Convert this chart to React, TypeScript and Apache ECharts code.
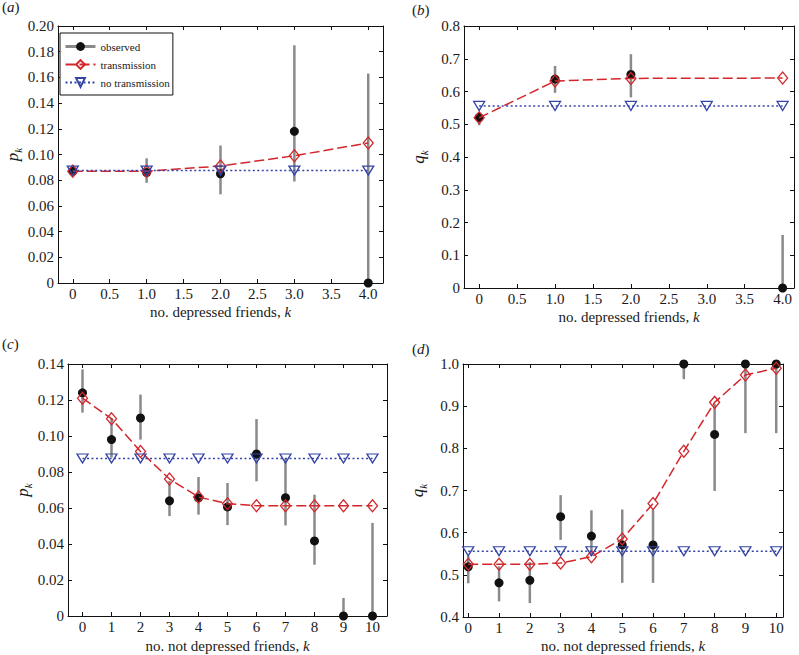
import React, { useEffect, useRef } from 'react';
import * as echarts from 'echarts';

// ---------- data ----------
// (a) p_k vs no. depressed friends
const kA = [0, 1, 2, 3, 4];
const obsA = [0.087, 0.086, 0.085, 0.118, 0];
const obsLoA = [0.084, 0.078, 0.069, 0.079, 0];
const obsHiA = [0.092, 0.097, 0.107, 0.185, 0.163];
const transA = [0.087, 0.087, 0.091, 0.099, 0.109];
const noTransA = [0.0875, 0.0875, 0.0875, 0.0875, 0.0875];

// (b) q_k vs no. depressed friends
const kBObs = [0, 1, 2, 4];
const obsB = [0.521, 0.638, 0.652, 0];
const obsLoB = [0.497, 0.596, 0.582, 0];
const obsHiB = [0.537, 0.678, 0.714, 0.162];
const kBTrans = [0, 1, 2, 4];
const transB = [0.52, 0.632, 0.64, 0.641];
const kBNo = [0, 1, 2, 3, 4];
const noTransB = [0.556, 0.556, 0.556, 0.556, 0.556];

// (c) p_k vs no. not depressed friends
const kC = [0, 1, 2, 3, 4, 5, 6, 7, 8, 9, 10];
const obsC = [0.124, 0.098, 0.11, 0.064, 0.0656, 0.0606, 0.09, 0.0657, 0.0417, 0, 0];
const obsLoC = [0.113, 0.088, 0.098, 0.0555, 0.0563, 0.0505, 0.0748, 0.0503, 0.0285, 0, 0];
const obsHiC = [0.137, 0.11, 0.123, 0.075, 0.0772, 0.0739, 0.1094, 0.0875, 0.0674, 0.01, 0.0517];
const transC = [0.121, 0.1096, 0.0914, 0.0761, 0.0661, 0.0624, 0.0613, 0.0612, 0.0612, 0.0612, 0.0612];
const noTransC = [0.0875, 0.0875, 0.0875, 0.0875, 0.0875, 0.0875, 0.0875, 0.0875, 0.0875, 0.0875, 0.0875];

// (d) q_k vs no. not depressed friends
const kD = [0, 1, 2, 3, 4, 5, 6, 7, 8, 9, 10];
const obsD = [0.519, 0.481, 0.487, 0.638, 0.592, 0.571, 0.571, 1.0, 0.833, 1.0, 1.0];
const obsLoD = [0.48, 0.437, 0.433, 0.583, 0.545, 0.481, 0.481, 0.964, 0.699, 0.836, 0.836];
const obsHiD = [0.545, 0.52, 0.53, 0.689, 0.653, 0.655, 0.655, 1.0, 0.905, 1.0, 1.0];
const transD = [0.525, 0.525, 0.525, 0.528, 0.543, 0.585, 0.669, 0.793, 0.909, 0.974, 0.99];
const noTransD = [0.556, 0.556, 0.556, 0.556, 0.556, 0.556, 0.556, 0.556, 0.556, 0.556, 0.556];

const xNameDep = 'no. depressed friends, {i|k}';
const xNameNot = 'no. not depressed friends, {i|k}';
const panelLetters = ['a', 'b', 'c', 'd'];

// ---------- styling ----------
const FONT = "'Liberation Serif', 'Times New Roman', Times, serif";
const TXT = '#1a1a1a';
const RED = '#d3262b';
const BLUE = '#3444a6';
const GRAY = '#8a8a8a';

const fmt0 = (d: number) => (v: number) => (Math.abs(v) < 1e-9 ? '0' : v.toFixed(d));
const fmtInt = (v: number) => String(Math.round(v));

type Panel = {
  grid: { left: number; top: number; width: number; height: number };
  xMin: number; xMax: number; split: number;
  yMin: number; yMax: number; yInt: number;
  xFmt: (v: number) => string; yFmt: (v: number) => string;
  xName: string; yLetter: string; yGap: number; xGap: number;
  kObs: number[]; obs: number[]; lo: number[]; hi: number[];
  kTrans: number[]; trans: number[]; kNo: number[]; noTrans: number[];
};

const panels: Panel[] = [
  {
    grid: { left: 58, top: 26, width: 325, height: 257 },
    xMin: -0.2, xMax: 4.2, split: 9, yMin: 0, yMax: 0.2, yInt: 0.02,
    xFmt: fmt0(1), yFmt: fmt0(2), xName: xNameDep, yLetter: 'p', yGap: 35, xGap: 21,
    kObs: kA, obs: obsA, lo: obsLoA, hi: obsHiA, kTrans: kA, trans: transA, kNo: kA, noTrans: noTransA,
  },
  {
    grid: { left: 464, top: 26, width: 330, height: 262 },
    xMin: -0.2, xMax: 4.15, split: 9, yMin: 0, yMax: 0.8, yInt: 0.1,
    xFmt: fmt0(1), yFmt: fmt0(1), xName: xNameDep, yLetter: 'q', yGap: 35, xGap: 21,
    kObs: kBObs, obs: obsB, lo: obsLoB, hi: obsHiB, kTrans: kBTrans, trans: transB, kNo: kBNo, noTrans: noTransB,
  },
  {
    grid: { left: 68, top: 364, width: 319, height: 252 },
    xMin: -0.5, xMax: 10.5, split: 11, yMin: 0, yMax: 0.14, yInt: 0.02,
    xFmt: fmtInt, yFmt: fmt0(2), xName: xNameNot, yLetter: 'p', yGap: 34, xGap: 22,
    kObs: kC, obs: obsC, lo: obsLoC, hi: obsHiC, kTrans: kC, trans: transC, kNo: kC, noTrans: noTransC,
  },
  {
    grid: { left: 463, top: 364, width: 320, height: 253 },
    xMin: -0.17, xMax: 10.22, split: 10, yMin: 0.4, yMax: 1.0, yInt: 0.1,
    xFmt: fmtInt, yFmt: (v: number) => v.toFixed(1), xName: xNameNot, yLetter: 'q', yGap: 35, xGap: 21,
    kObs: kD, obs: obsD, lo: obsLoD, hi: obsHiD, kTrans: kD, trans: transD, kNo: kD, noTrans: noTransD,
  },
];

function buildOption() {
  const grid: any[] = [];
  const xAxis: any[] = [];
  const yAxis: any[] = [];
  const series: any[] = [];
  const axisLine = { show: true, onZero: false, lineStyle: { color: '#111', width: 1 } };
  const axisTick = { show: true, inside: true, length: 4, lineStyle: { color: '#111', width: 1 } };

  panels.forEach((p, i) => {
    grid.push({ ...p.grid, containLabel: false });
    const xBase = {
      type: 'value', gridIndex: i, min: p.xMin, max: p.xMax, splitNumber: p.split,
      splitLine: { show: false }, axisLine, axisTick,
    };
    xAxis.push({
      ...xBase, position: 'bottom',
      axisLabel: {
        show: true, showMinLabel: false, showMaxLabel: false, margin: 3,
        fontFamily: FONT, fontSize: 15, color: TXT, formatter: p.xFmt,
      },
      name: p.xName, nameLocation: 'middle', nameGap: p.xGap,
      nameTextStyle: {
        fontFamily: FONT, fontSize: 15, color: TXT,
        rich: { i: { fontFamily: FONT, fontSize: 15, fontStyle: 'italic', color: TXT } },
      },
    });
    xAxis.push({ ...xBase, position: 'top', axisLabel: { show: false } });

    const yBase = {
      type: 'value', gridIndex: i, min: p.yMin, max: p.yMax, interval: p.yInt,
      splitLine: { show: false }, axisLine, axisTick,
    };
    yAxis.push({
      ...yBase, position: 'left',
      axisLabel: { show: true, margin: 4, fontFamily: FONT, fontSize: 15, color: TXT, formatter: p.yFmt },
      name: `{p|${p.yLetter}}{s|k}`, nameLocation: 'middle', nameRotate: 90, nameGap: p.yGap,
      nameTextStyle: {
        fontFamily: FONT, fontSize: 16, color: TXT,
        rich: {
          p: { fontFamily: FONT, fontSize: 17, fontStyle: 'italic', color: TXT, lineHeight: 22, verticalAlign: 'middle' },
          s: { fontFamily: FONT, fontSize: 11, fontStyle: 'italic', color: TXT, lineHeight: 22, verticalAlign: 'bottom' },
        },
      },
    });
    yAxis.push({ ...yBase, position: 'right', axisLabel: { show: false } });

    const xi = 2 * i;
    const yi = 2 * i;
    series.push({
      type: 'custom', name: 'observed error', xAxisIndex: xi, yAxisIndex: yi, clip: false,
      data: p.kObs.map((k, j) => [k, p.lo[j], p.hi[j]]),
      encode: { x: 0, y: [1, 2] },
      renderItem: (_params: any, api: any) => {
        const a = api.coord([api.value(0), api.value(1)]);
        const b = api.coord([api.value(0), api.value(2)]);
        return {
          type: 'line',
          shape: { x1: a[0], y1: a[1], x2: b[0], y2: b[1] },
          style: { stroke: GRAY, lineWidth: 2.5 },
        };
      },
      z: 1,
    });
    series.push({
      type: 'line', name: 'observed', xAxisIndex: xi, yAxisIndex: yi, clip: false,
      data: p.kObs.map((k, j) => [k, p.obs[j]]),
      symbol: 'circle', symbolSize: 9, showSymbol: true,
      itemStyle: { color: '#111' },
      lineStyle: { opacity: 0, width: 0 },
      z: 2,
    });
    series.push({
      type: 'line', name: 'transmission', xAxisIndex: xi, yAxisIndex: yi, clip: false,
      data: p.kTrans.map((k, j) => [k, p.trans[j]]),
      symbol: 'diamond', symbolSize: [10, 12], showSymbol: true,
      itemStyle: { color: 'rgba(255,255,255,0)', borderColor: RED, borderWidth: 1.3 },
      lineStyle: { color: RED, width: 1.5, type: [10, 4] },
      z: 3,
    });
    series.push({
      type: 'line', name: 'no transmission', xAxisIndex: xi, yAxisIndex: yi, clip: false,
      data: p.kNo.map((k, j) => [k, p.noTrans[j]]),
      symbol: 'triangle', symbolRotate: 180, symbolSize: [11, 9], showSymbol: true,
      itemStyle: { color: 'rgba(255,255,255,0)', borderColor: BLUE, borderWidth: 1.3 },
      lineStyle: { color: BLUE, width: 1.5, type: [2, 2.5] },
      z: 4,
    });
  });

  const labelPos = [
    { x: 2, y: -1 },
    { x: 412, y: 2 },
    { x: 2, y: 336 },
    { x: 412, y: 341 },
  ];
  const graphic = panelLetters.map((l, i) => ({
    type: 'text', x: labelPos[i].x, y: labelPos[i].y, z: 10,
    style: {
      text: `({i|${l}})`, fontFamily: FONT, fontSize: 15, fill: TXT,
      rich: { i: { fontFamily: FONT, fontSize: 15, fontStyle: 'italic', fill: TXT, color: TXT } },
    },
  }));

  return {
    animation: false,
    backgroundColor: '#fff',
    grid, xAxis, yAxis, series, graphic,
    legend: {
      show: true, orient: 'vertical', left: 60, top: 33,
      itemWidth: 30, itemHeight: 11, itemGap: 7, padding: [8, 3, 7, 4],
      borderColor: '#111', borderWidth: 1, backgroundColor: '#fff',
      selectedMode: false,
      textStyle: { fontFamily: FONT, fontSize: 11, color: TXT },
      data: [
        { name: 'observed', lineStyle: { color: GRAY, width: 3, opacity: 1, type: 'solid' }, itemStyle: { color: '#111' } },
        { name: 'transmission' },
        { name: 'no transmission' },
      ],
    },
  };
}

export default function App() {
  const ref = useRef<HTMLDivElement>(null);
  useEffect(() => {
    const chart = echarts.init(ref.current!, null, { renderer: 'svg' });
    chart.setOption(buildOption() as any);
    return () => chart.dispose();
  }, []);
  return (
    <div
      ref={ref}
      style={{ position: 'fixed', left: 0, top: 0, width: 799, height: 655, background: '#fff' }}
    />
  );
}
